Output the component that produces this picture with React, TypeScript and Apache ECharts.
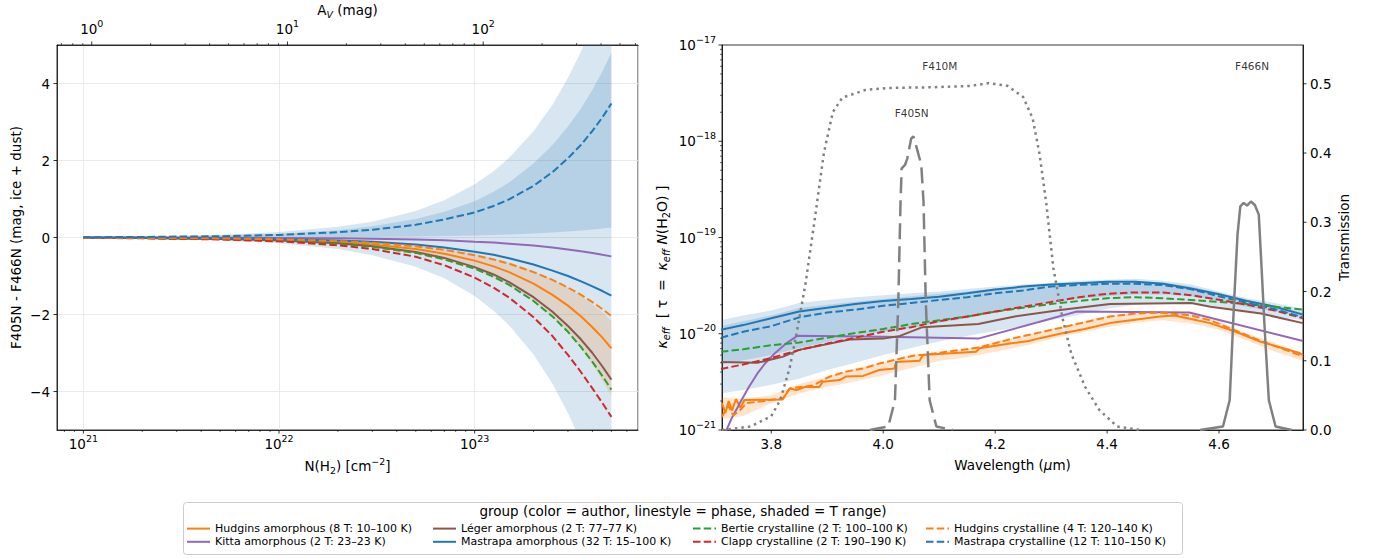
import React, { useEffect, useRef } from 'react';
import * as echarts from 'echarts';

const FONT = 'DejaVu Sans';
const BLUE = '#1f77b4';
const ORANGE = '#ff7f0e';
const GREEN = '#2ca02c';
const RED = '#d62728';
const PURPLE = '#9467bd';
const BROWN = '#8c564b';
const GRAY = '#808080';

// ---------- series names (legend) ----------
const HUD_AM = 'Hudgins amorphous (8 T: 10–100 K)';
const KIT_AM = 'Kitta amorphous (2 T: 23–23 K)';
const LEG_AM = 'Léger amorphous (2 T: 77–77 K)';
const MAS_AM = 'Mastrapa amorphous (32 T: 15–100 K)';
const BER_CR = 'Bertie crystalline (2 T: 100–100 K)';
const CLA_CR = 'Clapp crystalline (2 T: 190–190 K)';
const HUD_CR = 'Hudgins crystalline (4 T: 120–140 K)';
const MAS_CR = 'Mastrapa crystalline (12 T: 110–150 K)';
const LEGEND_COLS = [[HUD_AM, KIT_AM], [LEG_AM, MAS_AM], [BER_CR, CLA_CR], [HUD_CR, MAS_CR]];
const LEGEND_TITLE = 'group (color = author, linestyle = phase, shaded = T range)';

// ---------- left panel: colour vs column density ----------
const N_H2 = [1e21, 2e21, 5e21, 1e22, 2e22, 3e22, 5e22, 7e22, 1e23, 1.25e23, 1.5e23, 2e23, 2.5e23, 3e23, 3.5e23, 4e23, 4.5e23, 5e23];
const C_HUD_AM = [-0.006, -0.012, -0.03, -0.06, -0.12, -0.18, -0.3, -0.42, -0.6, -0.75, -0.9, -1.2, -1.49, -1.77, -2.05, -2.33, -2.6, -2.88];
const C_KIT_AM = [-0.001, -0.002, -0.005, -0.01, -0.02, -0.03, -0.05, -0.07, -0.11, -0.13, -0.16, -0.21, -0.26, -0.31, -0.36, -0.4, -0.45, -0.49];
const C_LEG_AM = [-0.007, -0.015, -0.037, -0.075, -0.15, -0.225, -0.375, -0.53, -0.77, -0.96, -1.16, -1.55, -1.93, -2.3, -2.65, -3.0, -3.35, -3.69];
const C_MAS_AM = [-0.004, -0.008, -0.019, -0.038, -0.076, -0.11, -0.18, -0.26, -0.37, -0.45, -0.54, -0.7, -0.86, -1.0, -1.14, -1.27, -1.39, -1.51];
const C_BER_CR = [-0.008, -0.016, -0.04, -0.08, -0.16, -0.24, -0.4, -0.57, -0.81, -1.02, -1.23, -1.65, -2.05, -2.45, -2.85, -3.23, -3.6, -3.95];
const C_CLA_CR = [-0.01, -0.02, -0.05, -0.1, -0.2, -0.3, -0.5, -0.72, -1.04, -1.3, -1.56, -2.07, -2.56, -3.05, -3.5, -3.92, -4.3, -4.66];
const C_HUD_CR = [-0.005, -0.009, -0.023, -0.046, -0.092, -0.138, -0.23, -0.32, -0.46, -0.57, -0.68, -0.9, -1.1, -1.3, -1.49, -1.68, -1.86, -2.04];
const C_MAS_CR = [0.007, 0.014, 0.034, 0.068, 0.136, 0.2, 0.33, 0.47, 0.65, 0.82, 0.99, 1.34, 1.7, 2.06, 2.41, 2.77, 3.12, 3.48];
// T-range bands (left)
const CB_MAS_AM_HI = [0.014, 0.028, 0.07, 0.14, 0.28, 0.41, 0.69, 0.97, 1.38, 1.72, 2.07, 2.76, 3.45, 4.14, 4.83, 5.52, 6.21, 6.9];
const CB_MAS_AM_LO = [-0.015, -0.03, -0.076, -0.15, -0.3, -0.46, -0.76, -1.06, -1.52, -1.9, -2.28, -3.04, -3.8, -4.56, -5.32, -6.08, -6.84, -7.6];
const CB_MAS_CR_HI = [0.01, 0.02, 0.05, 0.1, 0.19, 0.29, 0.48, 0.67, 0.94, 1.19, 1.43, 1.92, 2.4, 2.88, 3.36, 3.84, 4.32, 4.8];
const CB_MAS_CR_LO = [0.0005, 0.001, 0.003, 0.005, 0.01, 0.016, 0.026, 0.036, 0.052, 0.065, 0.078, 0.104, 0.13, 0.156, 0.182, 0.21, 0.235, 0.26];
const CB_HUD_AM_HI = [-0.004, -0.009, -0.022, -0.043, -0.087, -0.13, -0.22, -0.3, -0.43, -0.54, -0.65, -0.87, -1.09, -1.3, -1.52, -1.74, -1.95, -2.17];
const CB_HUD_AM_LO = [-0.008, -0.016, -0.041, -0.082, -0.165, -0.25, -0.41, -0.58, -0.82, -1.03, -1.24, -1.65, -2.06, -2.47, -2.88, -3.3, -3.71, -4.12];

// ---------- right panel: kappa_eff in units of 1e-20 (axis labels show true powers) ----------
const K_UNIT_EXP = -20;
const LAM = [3.71, 3.75, 3.8, 3.85, 3.9, 3.95, 4.0, 4.05, 4.1, 4.15, 4.2, 4.25, 4.3, 4.35, 4.4, 4.45, 4.5, 4.55, 4.6, 4.65, 4.7, 4.75];
const K_MAS_AM = [1.10, 1.23, 1.45, 1.70, 1.86, 2.04, 2.19, 2.29, 2.43, 2.63, 2.88, 3.09, 3.24, 3.35, 3.47, 3.47, 3.31, 2.95, 2.57, 2.19, 1.91, 1.58];
const K_MAS_CR = [0.91, 1.05, 1.20, 1.48, 1.66, 1.78, 1.95, 2.09, 2.24, 2.40, 2.63, 2.82, 3.10, 3.22, 3.30, 3.31, 3.20, 2.90, 2.45, 2.10, 1.80, 1.48];
const K_BER_CR = [0.65, 0.69, 0.76, 0.81, 0.91, 1.02, 1.12, 1.26, 1.38, 1.51, 1.70, 1.86, 2.04, 2.19, 2.34, 2.40, 2.34, 2.24, 2.14, 2.04, 1.91, 1.78];
const K_CLA_CR = [0.43, 0.48, 0.56, 0.68, 0.79, 0.91, 1.05, 1.17, 1.35, 1.51, 1.70, 1.91, 2.14, 2.40, 2.60, 2.69, 2.69, 2.51, 2.26, 2.0, 1.74, 1.45];
const KB_MAS_AM_HI = [1.38, 1.55, 1.74, 2.09, 2.24, 2.40, 2.51, 2.63, 2.75, 2.92, 3.09, 3.24, 3.39, 3.55, 3.63, 3.72, 3.55, 3.24, 2.75, 2.34, 2.09, 1.82];
const KB_MAS_AM_LO = [0.24, 0.26, 0.295, 0.34, 0.42, 0.50, 0.60, 0.71, 0.83, 0.95, 1.07, 1.20, 1.38, 1.58, 1.82, 2.00, 2.09, 2.09, 1.91, 1.70, 1.51, 1.38];
const KB_MAS_CR_HI = [1.20, 1.35, 1.55, 1.85, 2.0, 2.15, 2.3, 2.45, 2.6, 2.75, 2.95, 3.1, 3.25, 3.4, 3.5, 3.55, 3.4, 3.1, 2.65, 2.25, 1.95, 1.65];
const KB_MAS_CR_LO = [0.48, 0.53, 0.6, 0.71, 0.82, 0.95, 1.05, 1.15, 1.3, 1.45, 1.65, 1.9, 2.1, 2.3, 2.45, 2.55, 2.55, 2.45, 2.2, 1.9, 1.7, 1.5];
const KB_HUD_AM_HI = [0.22, 0.21, 0.23, 0.30, 0.36, 0.44, 0.50, 0.60, 0.64, 0.70, 0.82, 0.95, 1.12, 1.30, 1.55, 1.65, 1.70, 1.60, 1.35, 1.0, 0.80, 0.62];
const KB_HUD_AM_LO = [0.13, 0.14, 0.19, 0.24, 0.28, 0.32, 0.37, 0.44, 0.52, 0.57, 0.65, 0.74, 0.88, 1.02, 1.17, 1.30, 1.38, 1.28, 1.10, 0.85, 0.65, 0.52];
const K_LEG_AM: [number, number][] = [[3.71, 0.51], [3.775, 0.50], [3.82, 0.575], [3.85, 0.68], [3.94, 0.87], [4.0, 0.89], [4.03, 0.95], [4.07, 1.17], [4.17, 1.26], [4.235, 1.51], [4.32, 1.78], [4.405, 2.04], [4.55, 2.09], [4.585, 1.91], [4.675, 1.62], [4.75, 1.29]];
const K_KIT_AM: [number, number][] = [[3.712, 0.07], [3.72, 0.1], [3.73, 0.135], [3.747, 0.205], [3.76, 0.28], [3.777, 0.40], [3.79, 0.50], [3.807, 0.63], [3.825, 0.78], [3.847, 0.955], [4.0, 0.93], [4.17, 0.89], [4.346, 1.70], [4.547, 1.66], [4.75, 0.84]];
const K_HUD_AM: [number, number][] = [[3.712, 0.19], [3.718, 0.15], [3.724, 0.2], [3.73, 0.16], [3.737, 0.21], [3.745, 0.17], [3.752, 0.205], [3.82, 0.207], [3.833, 0.27], [3.845, 0.26], [3.86, 0.28], [3.886, 0.28], [3.892, 0.318], [3.922, 0.33], [3.934, 0.36], [3.964, 0.365], [3.993, 0.42], [4.02, 0.435], [4.023, 0.51], [4.065, 0.525], [4.071, 0.60], [4.113, 0.625], [4.166, 0.65], [4.172, 0.705], [4.232, 0.80], [4.26, 0.84], [4.28, 0.9], [4.316, 1.0], [4.36, 1.12], [4.405, 1.29], [4.45, 1.4], [4.494, 1.51], [4.52, 1.55], [4.55, 1.42], [4.584, 1.29], [4.63, 1.05], [4.673, 0.83], [4.71, 0.72], [4.744, 0.63], [4.75, 0.6]];
const K_HUD_CR: [number, number][] = [[3.712, 0.137], [3.723, 0.18], [3.732, 0.142], [3.744, 0.16], [3.756, 0.19], [3.821, 0.213], [3.833, 0.27], [3.874, 0.29], [3.904, 0.358], [3.934, 0.404], [3.964, 0.436], [3.993, 0.49], [4.023, 0.54], [4.053, 0.59], [4.083, 0.615], [4.113, 0.65], [4.172, 0.72], [4.232, 0.895], [4.316, 1.15], [4.405, 1.51], [4.45, 1.62], [4.494, 1.66], [4.55, 1.55], [4.584, 1.38], [4.673, 0.85], [4.744, 0.6], [4.75, 0.57]];

// ---------- filter transmission curves ----------
const F410M: [number, number][] = [[3.712, 0.0], [3.763, 0.005], [3.8, 0.02], [3.816, 0.043], [3.833, 0.09], [3.845, 0.139], [3.861, 0.21], [3.878, 0.306], [3.894, 0.40], [3.91, 0.459], [3.927, 0.48], [3.968, 0.491], [4.009, 0.494], [4.091, 0.495], [4.156, 0.497], [4.189, 0.501], [4.222, 0.497], [4.25, 0.481], [4.267, 0.45], [4.279, 0.40], [4.291, 0.33], [4.304, 0.234], [4.32, 0.163], [4.336, 0.11], [4.361, 0.062], [4.386, 0.029], [4.418, 0.005], [4.46, 0.0]];
const F405N: [number, number][] = [[3.976, 0.0], [4.009, 0.005], [4.021, 0.043], [4.027, 0.187], [4.031, 0.33], [4.033, 0.378], [4.039, 0.383], [4.043, 0.392], [4.05, 0.421], [4.054, 0.424], [4.06, 0.407], [4.068, 0.383], [4.072, 0.33], [4.076, 0.187], [4.083, 0.043], [4.095, 0.005], [4.124, 0.0]];
const F466N: [number, number][] = [[4.566, 0.0], [4.607, 0.005], [4.619, 0.043], [4.627, 0.187], [4.633, 0.282], [4.638, 0.323], [4.644, 0.328], [4.65, 0.324], [4.657, 0.330], [4.664, 0.325], [4.671, 0.311], [4.676, 0.234], [4.682, 0.139], [4.689, 0.043], [4.701, 0.005], [4.73, 0.0]];
const FILTER_LABELS: { name: string; lam: number; t: number }[] = [
  { name: 'F410M', lam: 4.101, t: 0.525 },
  { name: 'F405N', lam: 4.051, t: 0.458 },
  { name: 'F466N', lam: 4.659, t: 0.525 },
];

// ---------- ticks ----------
const N_MAJOR = [1e21, 1e22, 1e23];
const N_MINOR = [8e20, 9e20, 2e21, 3e21, 4e21, 5e21, 6e21, 7e21, 8e21, 9e21, 2e22, 3e22, 4e22, 5e22, 6e22, 7e22, 8e22, 9e22, 2e23, 3e23, 4e23, 5e23, 6e23];
const AV_MAJOR = [1, 10, 100];
const AV_MINOR = [0.7, 0.8, 0.9, 2, 3, 4, 5, 6, 7, 8, 9, 20, 30, 40, 50, 60, 70, 80, 90, 200, 300, 400, 500, 600];
const COLOR_TICKS = [-4, -2, 0, 2, 4];
const LAM_TICKS = [3.8, 4.0, 4.2, 4.4, 4.6];
// kappa ticks in units of 1e-20 (i.e. 1e-21 ... 1e-17)
const K_MAJOR = [0.1, 1, 10, 100, 1000];
const K_MINOR = [0.2, 0.3, 0.4, 0.5, 0.6, 0.7, 0.8, 0.9, 2, 3, 4, 5, 6, 7, 8, 9, 20, 30, 40, 50, 60, 70, 80, 90, 200, 300, 400, 500, 600, 700, 800, 900];
const T_TICKS = [0, 0.1, 0.2, 0.3, 0.4, 0.5];

// ---------- helpers ----------
const DASH = [7.5, 3.2];

function leftLine(name: string, vals: number[], color: string, dashed: boolean) {
  return {
    type: 'line', name, xAxisIndex: 0, yAxisIndex: 0, z: 3, silent: true, clip: true,
    symbol: 'none', showSymbol: false,
    data: N_H2.map((n, i) => [n, vals[i]]),
    itemStyle: { color },
    lineStyle: { color, width: 2, type: dashed ? DASH : 'solid' },
  };
}

function rightLine(name: string, pts: [number, number][], color: string, dashed: boolean) {
  return {
    type: 'line', name, xAxisIndex: 2, yAxisIndex: 1, z: 3, silent: true, clip: true,
    symbol: 'none', showSymbol: false,
    data: pts,
    itemStyle: { color },
    lineStyle: { color, width: 2, type: dashed ? DASH : 'solid' },
  };
}

const zip = (xs: number[], vs: number[]): [number, number][] => xs.map((x, i) => [x, vs[i]]);

function band(id: string, xi: number, yi: number, xs: number[], lo: number[], hi: number[], fill: string) {
  return {
    type: 'custom', id, name: id, xAxisIndex: xi, yAxisIndex: yi, z: 1, silent: true, clip: true,
    data: xs.map((x, i) => [x, lo[i], hi[i]]),
    encode: { x: 0, y: [1, 2] },
    renderItem: (params: any, api: any) => {
      if (params.dataIndex !== 0) return null;
      const pts: number[][] = [];
      for (let i = 0; i < xs.length; i++) pts.push(api.coord([xs[i], hi[i]]));
      for (let i = xs.length - 1; i >= 0; i--) pts.push(api.coord([xs[i], lo[i]]));
      return { type: 'polygon', shape: { points: pts }, style: { fill, stroke: null } };
    },
  };
}

function ticks(id: string, xi: number, yi: number, side: string, pts: number[][], len: number, lw: number) {
  return {
    type: 'custom', id, name: id, xAxisIndex: xi, yAxisIndex: yi, z: 10, silent: true, clip: false,
    data: pts,
    encode: { x: 0, y: 1 },
    renderItem: (params: any, api: any) => {
      const cs = params.coordSys;
      const p = api.coord([api.value(0), api.value(1)]);
      let shape;
      if (side === 'bottom') shape = { x1: p[0], y1: cs.y + cs.height, x2: p[0], y2: cs.y + cs.height + len };
      else if (side === 'top') shape = { x1: p[0], y1: cs.y, x2: p[0], y2: cs.y - len };
      else if (side === 'left') shape = { x1: cs.x, y1: p[1], x2: cs.x - len, y2: p[1] };
      else shape = { x1: cs.x + cs.width, y1: p[1], x2: cs.x + cs.width + len, y2: p[1] };
      return { type: 'line', shape, style: { stroke: '#000', lineWidth: lw } };
    },
  };
}

const expFmt = (offset: number) => (v: number) => {
  const l = Math.log10(v);
  const e = Math.round(l);
  if (Math.abs(l - e) > 1e-6) return '';
  const ex = e + offset;
  return `{b|10}{s|${ex < 0 ? '−' + -ex : ex}}`;
};
const EXP_RICH = {
  b: { fontSize: 13.5, fontFamily: FONT, color: '#000', lineHeight: 22 },
  s: { fontSize: 9.5, fontFamily: FONT, color: '#000', verticalAlign: 'top' },
};

const TXT = (size: number, lh: number) => ({
  n: { fontSize: size, fontFamily: FONT, fill: '#000', color: '#000', lineHeight: lh },
  i: { fontSize: size, fontFamily: FONT, fill: '#000', color: '#000', fontStyle: 'italic', lineHeight: lh },
  s: { fontSize: size * 0.7, fontFamily: FONT, fill: '#000', color: '#000', verticalAlign: 'bottom' },
  is: { fontSize: size * 0.7, fontFamily: FONT, fill: '#000', color: '#000', fontStyle: 'italic', verticalAlign: 'bottom' },
  p: { fontSize: size * 0.7, fontFamily: FONT, fill: '#000', color: '#000', verticalAlign: 'top' },
});

function label(x: number, y: number, text: string, rotate = 0, size = 13.5) {
  return {
    type: 'text', x, y, rotation: rotate, z: 20, silent: true,
    style: {
      text, rich: TXT(size, 18), fontSize: size, fontFamily: FONT, fill: '#000',
      align: 'center', verticalAlign: 'middle', textAlign: 'center', textVerticalAlign: 'middle',
    },
  };
}

const axisLineStyle = { show: true, onZero: false, lineStyle: { color: '#000', width: 0.8 } };
const tickLabel = { fontSize: 13.5, fontFamily: FONT, color: '#000' };
const GRIDLINE = { show: true, lineStyle: { color: '#e4e4e4', width: 0.8 } };

function buildOption() {
  const series: any[] = [
    // left bands
    band('lb_mas_am', 0, 0, N_H2, CB_MAS_AM_LO, CB_MAS_AM_HI, 'rgba(31,119,180,0.18)'),
    band('lb_mas_cr', 0, 0, N_H2, CB_MAS_CR_LO, CB_MAS_CR_HI, 'rgba(31,119,180,0.18)'),
    band('lb_hud_am', 0, 0, N_H2, CB_HUD_AM_LO, CB_HUD_AM_HI, 'rgba(255,127,14,0.18)'),
    // left lines
    leftLine(HUD_AM, C_HUD_AM, ORANGE, false),
    leftLine(KIT_AM, C_KIT_AM, PURPLE, false),
    leftLine(LEG_AM, C_LEG_AM, BROWN, false),
    leftLine(MAS_AM, C_MAS_AM, BLUE, false),
    leftLine(BER_CR, C_BER_CR, GREEN, true),
    leftLine(CLA_CR, C_CLA_CR, RED, true),
    leftLine(HUD_CR, C_HUD_CR, ORANGE, true),
    leftLine(MAS_CR, C_MAS_CR, BLUE, true),
    // right bands
    band('rb_mas_am', 2, 1, LAM, KB_MAS_AM_LO, KB_MAS_AM_HI, 'rgba(31,119,180,0.18)'),
    band('rb_mas_cr', 2, 1, LAM, KB_MAS_CR_LO, KB_MAS_CR_HI, 'rgba(31,119,180,0.18)'),
    band('rb_hud_am', 2, 1, LAM, KB_HUD_AM_LO, KB_HUD_AM_HI, 'rgba(255,127,14,0.2)'),
    // right lines
    rightLine(HUD_AM, K_HUD_AM, ORANGE, false),
    rightLine(KIT_AM, K_KIT_AM, PURPLE, false),
    rightLine(LEG_AM, K_LEG_AM, BROWN, false),
    rightLine(MAS_AM, zip(LAM, K_MAS_AM), BLUE, false),
    rightLine(BER_CR, zip(LAM, K_BER_CR), GREEN, true),
    rightLine(CLA_CR, zip(LAM, K_CLA_CR), RED, true),
    rightLine(HUD_CR, K_HUD_CR, ORANGE, true),
    rightLine(MAS_CR, zip(LAM, K_MAS_CR), BLUE, true),
    // filters
    {
      type: 'line', name: 'F410M', xAxisIndex: 2, yAxisIndex: 2, z: 5, silent: true, clip: true, symbol: 'none',
      data: F410M, lineStyle: { color: GRAY, width: 2.5, type: [2.5, 4] },
    },
    {
      type: 'line', name: 'F405N', xAxisIndex: 2, yAxisIndex: 2, z: 5, silent: true, clip: true, symbol: 'none',
      data: F405N, lineStyle: { color: GRAY, width: 2.5, type: [16, 7] },
    },
    {
      type: 'line', name: 'F466N', xAxisIndex: 2, yAxisIndex: 2, z: 5, silent: true, clip: true, symbol: 'none',
      data: F466N, lineStyle: { color: GRAY, width: 2.5, type: 'solid' },
    },
    {
      type: 'scatter', name: 'filter labels', xAxisIndex: 2, yAxisIndex: 2, z: 6, silent: true,
      symbolSize: 1, itemStyle: { color: 'rgba(0,0,0,0)' },
      data: FILTER_LABELS.map((f) => ({ name: f.name, value: [f.lam, f.t] })),
      label: { show: true, position: 'inside', formatter: '{b}', fontSize: 10.5, fontFamily: FONT, color: '#000' },
    },
    // ticks
    ticks('t_n_maj', 0, 0, 'bottom', N_MAJOR.map((v) => [v, 0]), 3.5, 0.8),
    ticks('t_n_min', 0, 0, 'bottom', N_MINOR.map((v) => [v, 0]), 2, 0.6),
    ticks('t_av_maj', 1, 0, 'top', AV_MAJOR.map((v) => [v, 0]), 3.5, 0.8),
    ticks('t_av_min', 1, 0, 'top', AV_MINOR.map((v) => [v, 0]), 2, 0.6),
    ticks('t_c', 0, 0, 'left', COLOR_TICKS.map((v) => [1e22, v]), 3.5, 0.8),
    ticks('t_lam', 2, 1, 'bottom', LAM_TICKS.map((v) => [v, 1]), 3.5, 0.8),
    ticks('t_k_maj', 2, 1, 'left', K_MAJOR.map((v) => [4.0, v]), 3.5, 0.8),
    ticks('t_k_min', 2, 1, 'left', K_MINOR.map((v) => [4.0, v]), 2, 0.6),
    ticks('t_t', 2, 2, 'right', T_TICKS.map((v) => [4.0, v]), 3.5, 0.8),
  ];

  const legendX = [186, 432, 692, 925];

  return {
    animation: false,
    backgroundColor: '#fff',
    textStyle: { fontFamily: FONT },
    grid: [
      { left: 57, top: 45, width: 581, height: 385, show: true, borderColor: '#000', borderWidth: 0.8, backgroundColor: 'transparent', containLabel: false },
      { left: 722, top: 45, width: 581, height: 385, show: true, borderColor: '#000', borderWidth: 0.8, backgroundColor: 'transparent', containLabel: false },
    ],
    xAxis: [
      {
        type: 'log', gridIndex: 0, position: 'bottom', min: 7.33e20, max: 6.84e23,
        axisLine: axisLineStyle, axisTick: { show: false }, minorTick: { show: false },
        axisLabel: { ...tickLabel, margin: 3, showMinLabel: false, showMaxLabel: false, formatter: expFmt(0), rich: EXP_RICH },
        splitLine: GRIDLINE,
      },
      {
        type: 'log', gridIndex: 0, position: 'top', min: 0.6645, max: 618,
        axisLine: axisLineStyle, axisTick: { show: false }, minorTick: { show: false },
        axisLabel: { ...tickLabel, margin: 5, showMinLabel: false, showMaxLabel: false, formatter: expFmt(0), rich: EXP_RICH },
        splitLine: { show: false },
      },
      {
        type: 'value', gridIndex: 1, position: 'bottom', min: 3.712, max: 4.75, splitNumber: 5,
        axisLine: axisLineStyle, axisTick: { show: false },
        axisLabel: { ...tickLabel, margin: 7, showMinLabel: false, showMaxLabel: false, formatter: (v: number) => (v < 3.75 || v > 4.7 ? '' : v.toFixed(1)) },
        splitLine: { show: false },
      },
    ],
    yAxis: [
      {
        type: 'value', gridIndex: 0, min: -5, max: 5, splitNumber: 5,
        axisLine: axisLineStyle, axisTick: { show: false },
        axisLabel: {
          ...tickLabel, margin: 7, showMinLabel: false, showMaxLabel: false,
          formatter: (v: number) => (Math.abs(v) > 4.5 ? '' : v < 0 ? '−' + -v : String(v)),
        },
        splitLine: GRIDLINE,
      },
      {
        type: 'log', gridIndex: 1, position: 'left', min: 0.1, max: 1000,
        axisLine: axisLineStyle, axisTick: { show: false }, minorTick: { show: false },
        axisLabel: { ...tickLabel, margin: 6, formatter: expFmt(K_UNIT_EXP), rich: EXP_RICH },
        splitLine: { show: false },
      },
      {
        type: 'value', gridIndex: 1, position: 'right', min: 0, max: 0.556, interval: 0.1,
        axisLine: axisLineStyle, axisTick: { show: false },
        axisLabel: { ...tickLabel, margin: 7, showMaxLabel: false, formatter: (v: number) => (v > 0.52 ? '' : v.toFixed(1)) },
        splitLine: { show: false },
      },
    ],
    legend: LEGEND_COLS.map((col, k) => ({
      orient: 'vertical', left: legendX[k], top: 523, padding: 0, itemGap: 2,
      itemWidth: 23, itemHeight: 14, selectedMode: false, data: col,
      itemStyle: { opacity: 0 },
      textStyle: { fontFamily: FONT, fontSize: 11, color: '#000' },
    })),
    graphic: [
      {
        type: 'rect', z: 0, silent: true,
        shape: { x: 183.5, y: 502.5, width: 999, height: 52, r: 3 },
        style: { fill: 'rgba(255,255,255,0.8)', stroke: '#cccccc', lineWidth: 1 },
      },
      label(683, 511, `{n|${LEGEND_TITLE}}`),
      label(347.5, 10, '{n|A}{is|V}{n| (mag)}'),
      label(347.5, 466, '{n|N(H}{s|2}{n|) [cm}{p|−2}{n|]}'),
      label(16, 237.5, '{n|F405N - F466N (mag, ice + dust)}', Math.PI / 2),
      label(1012.5, 465, '{n|Wavelength (}{i|μ}{n|m)}'),
      label(662, 267, '{i|κ}{is|eff}{n|  [ τ  =  }{i|κ}{is|eff}{i| N}{n|(H}{s|2}{n|O) ]}', Math.PI / 2, 14),
      label(1344, 237.5, '{n|Transmission}', Math.PI / 2),
    ],
    series,
  };
}

export default function App() {
  const ref = useRef<HTMLDivElement>(null);
  useEffect(() => {
    if (!ref.current) return;
    const chart = echarts.init(ref.current, undefined, { renderer: 'svg' });
    chart.setOption(buildOption() as any);
    return () => chart.dispose();
  }, []);
  return <div ref={ref} style={{ position: 'absolute', left: 0, top: 0, width: 1377, height: 558 }} />;
}
